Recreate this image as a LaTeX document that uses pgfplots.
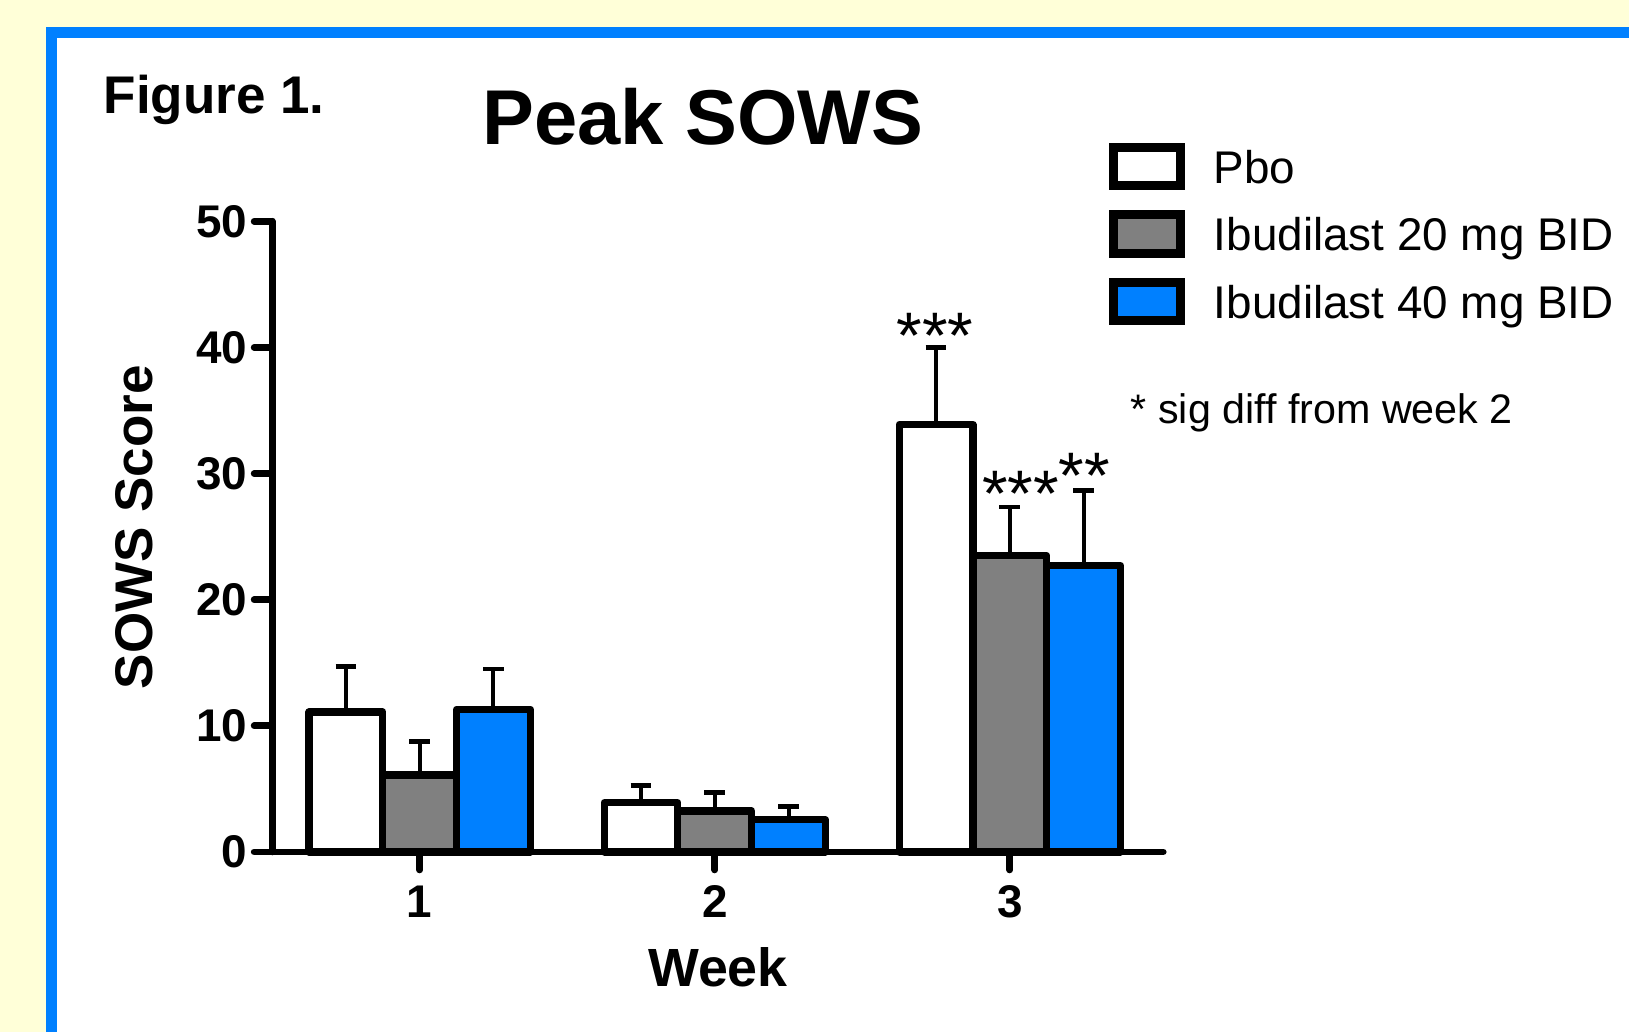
\documentclass[border=0pt]{standalone}
\usepackage{fontspec}
\setmainfont{Liberation Sans}
\usepackage{pgfplots}
\pgfplotsset{compat=1.18}
\definecolor{bgyellow}{HTML}{FFFFD8}
\definecolor{frameblue}{HTML}{0080FF}
\definecolor{barblue}{HTML}{0080FF}
\definecolor{bargray}{HTML}{808080}
\pgfplotsset{
  boxlegend/.style={legend image code/.code={\draw[##1, line width=2.2bp, line join=miter] (0bp,-4.8bp) rectangle (16.8bp,4.8bp);}},
}
\begin{document}
\begin{tikzpicture}
\begin{scope}[x=0.25bp,y=-0.25bp]
\fill[bgyellow] (0,0) rectangle (1629,1032);
\fill[frameblue] (46,27) rectangle (1700,1100);
\fill[white] (57,38) rectangle (1700,1100);
\node[anchor=base west, font=\bfseries\fontsize{13.3}{15}\selectfont, inner sep=0pt] at (103,113) {Figure 1.};
\node[anchor=base, font=\bfseries\fontsize{19.5}{22}\selectfont, inner sep=0pt] at (703,145) {Peak SOWS};
\node[anchor=base west, font=\fontsize{10.35}{12}\selectfont, inner sep=0pt] at (1130,424) {* sig diff from week 2};
\end{scope}
\begin{axis}[
  at={(68.05bp,-212.975bp)}, anchor=south west,
  scale only axis, width=222.75bp, height=157.65bp,
  xmin=0.5, xmax=3.52, ymin=0, ymax=50,
  ybar=0pt, bar width=0.25,
  clip=false,
  axis lines*=left,
  axis line style={line width=1.7bp, line cap=round},
  every tick/.style={line width=1.7bp, black, line cap=round},
  tick align=outside, major tick length=4.5bp,
  xtick={1,2,3}, ytick={0,10,20,30,40,50},
  /pgf/number format/assume math mode=true,
  ticklabel style={font=\bfseries\fontsize{11.5}{13}\selectfont},
  yticklabel style={inner sep=1.5bp},
  xticklabel style={inner sep=3.8bp},
  xlabel={Week},
  xlabel style={at={(axis description cs:0.5003,-0.2127)}, anchor=base, font=\bfseries\fontsize{13.5}{15}\selectfont, inner sep=0pt},
  ylabel={SOWS Score},
  ylabel style={at={(axis description cs:-0.1338,0.515)}, anchor=base, rotate=0, font=\bfseries\fontsize{13.3}{15}\selectfont, inner sep=0pt},
  legend style={at={(axis description cs:0.9392,1.1245)}, anchor=north west, draw=none, fill=none,
    inner sep=0pt, outer sep=0pt, row sep=5.1bp,
    font=\fontsize{11.5}{13}\selectfont,
    nodes={inner sep=0pt, text height=8.3bp, text depth=0pt},
    /tikz/every odd column/.append style={column sep=7.2bp}},
  legend cell align=left,
  error bars/error bar style={line width=1bp, black},
  error bars/error mark=|,
  error bars/error mark options={black, mark size=2.6bp, line width=1.2bp},
]
\addplot[fill=white, draw=black, line width=1.8bp, line join=round, boxlegend,
  error bars/.cd, y dir=plus, y explicit]
  coordinates {(1,11.1) +- (0,3.6) (2,3.9) +- (0,1.35) (3,33.9) +- (0,6.1)};
\addlegendentry{Pbo}
\addplot[fill=bargray, draw=black, line width=1.8bp, line join=round, boxlegend,
  error bars/.cd, y dir=plus, y explicit]
  coordinates {(1,6.1) +- (0,2.65) (2,3.25) +- (0,1.45) (3,23.5) +- (0,3.85)};
\addlegendentry{Ibudilast 20 mg BID}
\addplot[fill=barblue, draw=black, line width=1.8bp, line join=round, boxlegend,
  error bars/.cd, y dir=plus, y explicit]
  coordinates {(1,11.3) +- (0,3.2) (2,2.55) +- (0,1.05) (3,22.7) +- (0,5.95)};
\addlegendentry{Ibudilast 40 mg BID}
\node[anchor=base, font=\fontsize{16.5}{18}\selectfont, inner sep=0pt] at (axis cs:2.747,39.09) {***};
\node[anchor=base, font=\fontsize{16.5}{18}\selectfont, inner sep=0pt] at (axis cs:3.037,26.56) {***};
\node[anchor=base, font=\fontsize{16.5}{18}\selectfont, inner sep=0pt] at (axis cs:3.252,27.99) {**};
\end{axis}
\pgfresetboundingbox
\path (0bp,0bp) rectangle (407.25bp,-258bp);
\end{tikzpicture}
\end{document}
